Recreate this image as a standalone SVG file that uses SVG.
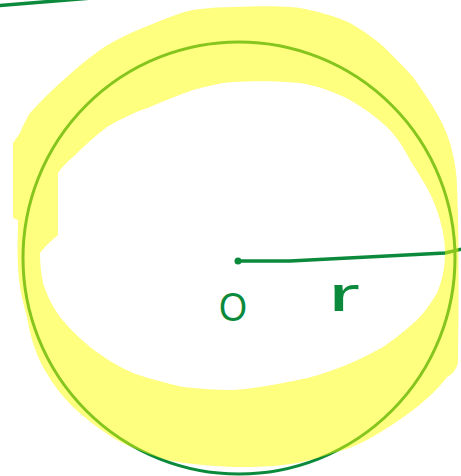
<svg xmlns="http://www.w3.org/2000/svg" width="461" height="476" viewBox="0 0 461 476">
<style>
.ink{fill:none;stroke:#0b8a3c;stroke-linecap:round;stroke-linejoin:round}
.lbl{font-family:"Liberation Sans",Arial,sans-serif;fill:#0b8a3c}
</style>
<rect width="461" height="476" fill="#ffffff"/>
<line class="ink" x1="-6" y1="6" x2="92" y2="-2" stroke-width="3.5"/>
<g id="circle">
<circle class="ink" cx="239" cy="258" r="216" stroke-width="3"/>
</g>
<g id="radius">
<path class="ink" d="M238 261 L290 261 L445 253 L462 249" stroke-width="3.5"/>
<circle cx="238" cy="261" r="3.5" fill="#0b8a3c"/>
</g>
<g id="labels">
<text class="lbl" x="219" y="321" font-size="40" textLength="28" lengthAdjust="spacingAndGlyphs">O</text>
<text class="lbl" x="328" y="311" font-size="48" textLength="32" lengthAdjust="spacingAndGlyphs">r</text>
</g>
<path id="highlight" fill="#ffff00" fill-opacity="0.5" fill-rule="evenodd" d="M233 7 C260 6 285 6 300 8 C320 12 335 16 350 23 C365 32 377 40 387 50 C397 60 405 68 413 77 C420 87 427 97 433 107 C440 118 446 130 450 143 C454 158 457 172 457 187 C459 230 459 300 458 363 C455 372 451 375 447 377 C437 390 428 398 417 407 C400 420 385 430 367 440 C355 446 345 450 333 453 C315 459 300 463 283 465 C265 467 250 467 233 467 C210 466 188 464 167 460 C148 454 132 448 117 440 C100 430 86 419 73 407 C60 394 51 381 43 367 C35 352 30 335 27 317 C22 300 19 285 18 267 C17 250 18 235 18 220 L13 218 L13 143 L20 133 C23 126 26 119 30 113 C40 102 50 92 60 83 C73 71 86 60 100 50 C115 40 132 32 150 25 C165 19 178 13 193 10 C207 8 220 7 233 7 Z M233 82 C255 81 280 81 300 83 C318 86 335 92 350 100 C364 108 376 117 387 127 C397 137 404 148 410 160 C418 173 427 186 433 200 C440 217 445 235 445 253 C445 268 442 281 437 293 C431 303 425 312 417 320 C406 330 395 339 383 347 C367 356 350 364 333 370 C317 376 300 380 283 383 C267 386 250 389 233 390 C216 390 200 389 183 387 C166 383 150 379 133 373 C117 366 103 357 90 347 C78 337 68 327 60 317 C52 306 47 295 43 283 C41 273 40 263 40 253 C45 246 52 240 58 235 L58 173 C62 167 67 162 73 157 C84 146 95 136 107 127 C120 119 135 112 150 107 C164 101 178 95 193 90 C207 86 220 83 233 82 Z"/>
</svg>
